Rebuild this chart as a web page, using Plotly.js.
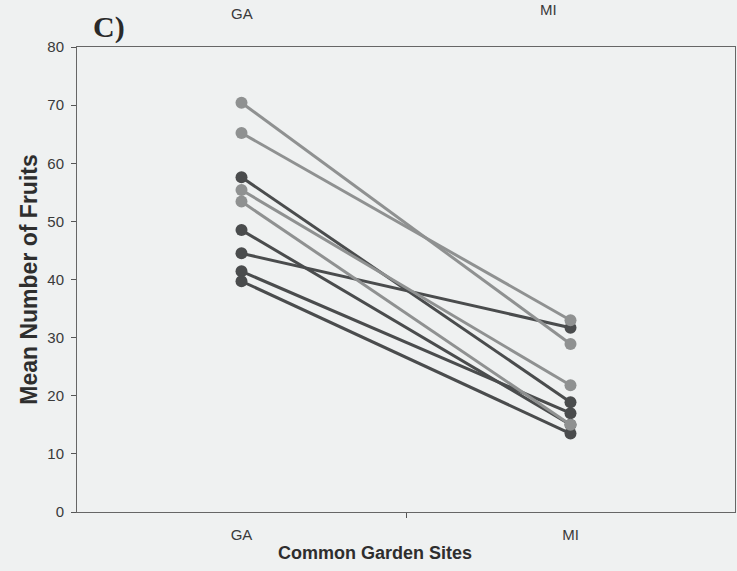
<!DOCTYPE html>
<html>
<head>
<meta charset="utf-8">
<script src="https://cdn.plot.ly/plotly-3.0.1.min.js"></script>
<style>
  html, body { margin: 0; padding: 0; background: #eff1f1; }
  #chart { width: 737px; height: 571px; }
</style>
</head>
<body>
<div id="chart"></div>
<script>
// Common garden sites on the x axis
const sites = ['GA', 'MI'];

// Mean number of fruits per population at each garden site
const gaFruits = [70.4, 65.2, 57.6, 55.4, 53.4, 48.5, 44.5, 41.4, 39.7];
const miFruits = [28.9, 33.0, 18.9, 21.8, 15.0, 15.0, 31.7, 17.0, 13.5];

// Which populations are drawn in the pale tone
const paleLine = [true, true, false, true, true, false, false, false, false];

const DARK = '#4a4c4d';
const PALE = '#8f9191';

const traces = [];
// dark reaction norms first, pale ones on top
[false, true].forEach(function (pale) {
  gaFruits.forEach(function (ga, i) {
    if (paleLine[i] !== pale) return;
    const c = pale ? PALE : DARK;
    traces.push({
      type: 'scatter',
      mode: 'lines+markers',
      x: sites,
      y: [ga, miFruits[i]],
      line: { color: c, width: 3 },
      marker: { color: c, size: 12 },
      showlegend: false,
      hoverinfo: 'y'
    });
  });
});

const sans = 'Liberation Sans, Arial, sans-serif';
const axisFont = { family: sans, size: 15, color: '#3a3a3a' };

const layout = {
  width: 737,
  height: 571,
  paper_bgcolor: '#eff1f1',
  plot_bgcolor: '#eff1f1',
  margin: { l: 77, r: 2, t: 47, b: 59 },
  showlegend: false,
  xaxis: {
    type: 'category',
    categoryorder: 'array',
    categoryarray: sites,
    range: [-0.5, 1.5],
    ticks: '',
    tickfont: axisFont,
    ticklabelstandoff: 9,
    showline: true,
    linecolor: '#666',
    linewidth: 1,
    mirror: true,
    showgrid: false,
    zeroline: false
  },
  // companion axis carrying the single divider tick between the two sites
  xaxis2: {
    overlaying: 'x',
    side: 'bottom',
    range: [-0.5, 1.5],
    tickvals: [0.5],
    showticklabels: false,
    ticks: 'outside',
    ticklen: 5,
    tickcolor: '#555',
    showline: false,
    showgrid: false,
    zeroline: false
  },
  yaxis: {
    range: [0, 80],
    dtick: 10,
    ticks: 'outside',
    ticklen: 5,
    tickcolor: '#555',
    tickfont: axisFont,
    ticklabelstandoff: 4,
    showline: true,
    linecolor: '#666',
    linewidth: 1,
    mirror: true,
    showgrid: false,
    zeroline: false,
    title: {
      text: 'Mean Number of Fruits',
      font: { family: sans, size: 23, color: '#2e2e2e', weight: 'bold' },
      standoff: 3
    }
  },
  annotations: [
    {
      text: '<b>Common Garden Sites</b>',
      xref: 'paper', yref: 'paper',
      x: (375 - 77) / 658, y: -(553 - 512) / 465,
      xanchor: 'center', yanchor: 'middle',
      showarrow: false,
      font: { family: sans, size: 18, color: '#2e2e2e' }
    },
    {
      text: '<b>C)</b>',
      xref: 'paper', yref: 'paper',
      x: (109 - 77) / 658, y: (512 - 27) / 465,
      xanchor: 'center', yanchor: 'middle',
      showarrow: false,
      font: { family: 'Liberation Serif, Times New Roman, serif', size: 30, color: '#2a2a2a' }
    },
    {
      text: 'GA',
      xref: 'paper', yref: 'paper',
      x: (242 - 77) / 658, y: (512 - 13) / 465,
      xanchor: 'center', yanchor: 'middle',
      showarrow: false,
      font: axisFont
    },
    {
      text: 'MI',
      xref: 'paper', yref: 'paper',
      x: (548 - 77) / 658, y: (512 - 10) / 465,
      xanchor: 'center', yanchor: 'middle',
      showarrow: false,
      font: axisFont
    }
  ]
};

// invisible trace that attaches the divider axis
traces.push({
  type: 'scatter', x: [0.5], y: [0], xaxis: 'x2', yaxis: 'y',
  mode: 'markers', marker: { opacity: 0 }, showlegend: false, hoverinfo: 'skip'
});

Plotly.newPlot('chart', traces, layout, { displayModeBar: false, staticPlot: true });
</script>
</body>
</html>
